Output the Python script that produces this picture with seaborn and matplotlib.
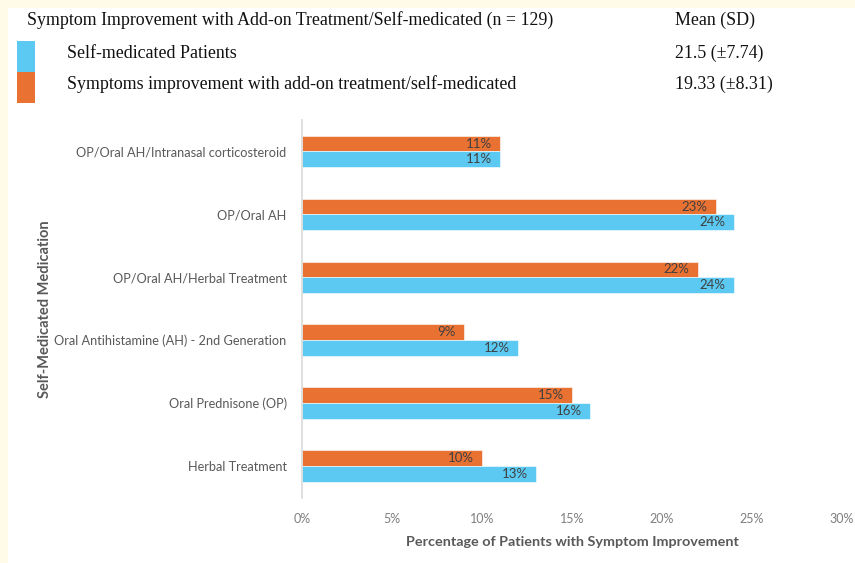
import matplotlib
matplotlib.use("Agg")
import matplotlib.pyplot as plt
import matplotlib.patches as mpatches
import seaborn as sns
import pandas as pd
from matplotlib.ticker import PercentFormatter

# Data
medications = [
    "OP/Oral AH/Intranasal corticosteroid",
    "OP/Oral AH",
    "OP/Oral AH/Herbal Treatment",
    "Oral Antihistamine (AH) - 2nd Generation",
    "Oral Prednisone (OP)",
    "Herbal Treatment",
]
addon_pct = [11, 23, 22, 9, 15, 10]
self_med_pct = [11, 24, 24, 12, 16, 13]

series_addon = "Symptoms improvement with add-on treatment/self-medicated"
series_self = "Self-medicated Patients"
summary_header = ["Symptom Improvement with Add-on Treatment/Self-medicated (n = 129)", "Mean (SD)"]
summary_rows = [
    (series_self, "21.5 (\u00b17.74)"),
    (series_addon, "19.33 (\u00b18.31)"),
]

BLUE = "#5BC9F2"
ORANGE = "#E97132"
CREAM = "#FFFBE8"

df = pd.DataFrame({
    "Medication": medications * 2,
    "Series": [series_addon] * len(medications) + [series_self] * len(medications),
    "Pct": addon_pct + self_med_pct,
})

sns.set_theme(style="white")
plt.rcParams["font.family"] = ["Lato", "DejaVu Sans"]

fig = plt.figure(figsize=(8.55, 5.63), dpi=100)
fig.patch.set_facecolor(CREAM)

# white card behind everything
card = mpatches.Rectangle((8 / 855, 0), 1 - 8 / 855, 1 - 8 / 563,
                          transform=fig.transFigure, facecolor="white",
                          edgecolor="none", zorder=-10)
fig.patches.append(card)

ax = fig.add_axes([302 / 855, 65.5 / 563, 540 / 855, 377.5 / 563])
ax.set_facecolor("none")
ax.set_zorder(5)

sns.barplot(data=df, y="Medication", x="Pct", hue="Series",
            hue_order=[series_addon, series_self],
            palette=[ORANGE, BLUE], saturation=1, orient="h", width=0.5,
            edgecolor="white", linewidth=0.4, legend=False, ax=ax)

# value labels tucked inside the bar ends
for cont in ax.containers:
    texts = ax.bar_label(cont, labels=[f"{v:.0f}%" for v in cont.datavalues],
                         label_type="edge", padding=-6, fontsize=9.5,
                         color="#404040")
    for t in texts:
        t.set_ha("right")

ax.set_xlim(0, 30)
ax.set_xticks([0, 5, 10, 15, 20, 25, 30])
ax.xaxis.set_major_formatter(PercentFormatter(decimals=0))
ax.tick_params(axis="x", labelsize=9, labelcolor="#7F7F7F", length=0, pad=11)
ax.tick_params(axis="y", labelsize=9.2, labelcolor="#595959", length=0, pad=11)

for s in ["top", "right", "bottom"]:
    ax.spines[s].set_visible(False)
ax.spines["left"].set_color("#D9D9D9")
ax.spines["left"].set_linewidth(1.2)

ax.set_xlabel("Percentage of Patients with Symptom Improvement",
              fontsize=10.4, fontweight="bold", color="#595959", labelpad=8)
ax.set_ylabel("Self-Medicated Medication", fontsize=10.5,
              fontweight="bold", color="#595959", labelpad=10)
ax.yaxis.set_label_coords(-250 / 540, 0.5)

# summary table above the chart
serif = ["Liberation Serif", "DejaVu Serif"]
fs = 12.9
fig.text(27 / 855, 1 - 20 / 563, summary_header[0], family=serif,
         fontsize=fs, va="center", ha="left", color="#111111")
fig.text(675 / 855, 1 - 20 / 563, summary_header[1], family=serif,
         fontsize=fs, va="center", ha="left", color="#111111")
for i, ((name, stat), col) in enumerate(zip(summary_rows, [BLUE, ORANGE])):
    yc = 53 + 31 * i
    fig.patches.append(mpatches.Rectangle((17 / 855, 1 - (41 + 31 * i + 31) / 563),
                                          18 / 855, 31 / 563,
                                          transform=fig.transFigure,
                                          facecolor=col, edgecolor="none"))
    fig.text(67 / 855, 1 - yc / 563, name, family=serif, fontsize=fs,
             va="center", ha="left", color="#111111")
    fig.text(675 / 855, 1 - yc / 563, stat, family=serif, fontsize=fs,
             va="center", ha="left", color="#111111")

fig.savefig("out.png", dpi=100, facecolor=fig.get_facecolor())
